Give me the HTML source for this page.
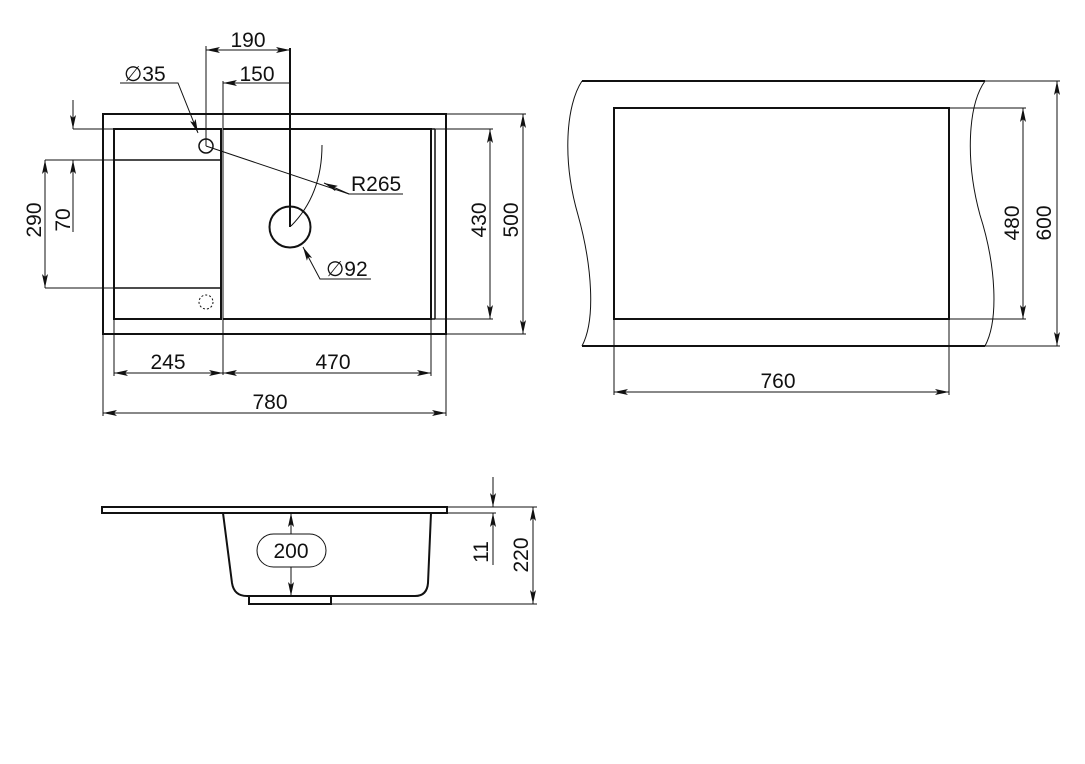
<!DOCTYPE html>
<html><head><meta charset="utf-8"><style>
html,body{margin:0;padding:0;background:#fff;}
svg{display:block;}
text{font-family:"Liberation Sans",sans-serif;font-size:21px;fill:#111;}
</style></head><body>
<svg width="1085" height="764" viewBox="0 0 1085 764" xmlns="http://www.w3.org/2000/svg">
<defs>
<marker id="a" viewBox="0 0 14 6" refX="14" refY="3" markerWidth="14" markerHeight="6" markerUnits="userSpaceOnUse" orient="auto-start-reverse">
<path d="M0,0 L14,3 L0,6 L3,3 Z" fill="#111"/></marker>
</defs>
<g fill="none" stroke="#111">
<rect x="103" y="114" width="343" height="220" stroke-width="2"/>
<path d="M114,129 H221 V319 H114 Z" stroke-width="2"/>
<path d="M223,129 H431 V319 H223" stroke-width="2"/>
<path d="M435,129 V319 M431,129 H435 M431,319 H435" stroke-width="1.5"/>
<path d="M114,160 H221 M114,288 H221" stroke-width="1.5"/>
<circle cx="206" cy="146" r="7" stroke-width="1.5"/>
<circle cx="206" cy="302" r="7" stroke-width="1" stroke-dasharray="2,2"/>
<circle cx="290" cy="227" r="20.5" stroke-width="2"/>
<path d="M290,48 V227" stroke-width="2"/>
<path d="M322,145 Q322,195 291,226" stroke-width="1"/>
<g stroke-width="1">
<path d="M206,46 V146 M223,81 V375 M114,319 V376 M431,319 V376 M103,334 V416 M446,334 V416"/>
<path d="M206,50 H290" marker-start="url(#a)" marker-end="url(#a)"/>
<path d="M223,83 H290" marker-start="url(#a)"/>
<path d="M120,83 H178 L198,133" marker-end="url(#a)"/>
<path d="M206,146 L349,194 H403"/>
<path d="M324,183 L349,194" marker-start="url(#a)"/>
<path d="M371,279 H320 L303,247" marker-end="url(#a)"/>
<path d="M73,129 H114 M45,160 H114 M45,288 H114"/>
<path d="M73,100 V129" marker-end="url(#a)"/>
<path d="M73,232 V160" marker-end="url(#a)"/>
<path d="M45,160 V288" marker-start="url(#a)" marker-end="url(#a)"/>
<path d="M435,129 H493 M435,319 H493 M446,114 H526 M446,334 H526"/>
<path d="M490,129 V319" marker-start="url(#a)" marker-end="url(#a)"/>
<path d="M523,114 V334" marker-start="url(#a)" marker-end="url(#a)"/>
<path d="M114,373 H223" marker-start="url(#a)" marker-end="url(#a)"/>
<path d="M223,373 H431" marker-start="url(#a)" marker-end="url(#a)"/>
<path d="M103,413 H446" marker-start="url(#a)" marker-end="url(#a)"/>
</g>
<path d="M582,81 H985 M582,346 H985" stroke-width="2"/>
<path d="M582,81 C566,105 562,160 578,215 C592,265 596,320 582,346" stroke-width="1"/>
<path d="M985,81 C968,105 965,160 980,215 C996,265 999,320 985,346" stroke-width="1"/>
<rect x="614" y="108" width="335" height="211" stroke-width="2"/>
<g stroke-width="1">
<path d="M985,81 H1060 M949,108 H1026 M949,319 H1026 M985,346 H1060 M614,319 V395 M949,319 V395"/>
<path d="M1023,108 V319" marker-start="url(#a)" marker-end="url(#a)"/>
<path d="M1057,81 V346" marker-start="url(#a)" marker-end="url(#a)"/>
<path d="M614,392 H949" marker-start="url(#a)" marker-end="url(#a)"/>
</g>
<rect x="102" y="507" width="345" height="6" stroke-width="2"/>
<path d="M223,513 L232,583 Q234,596 247,596 H415 Q427,596 428,583 L431,513" stroke-width="2"/>
<rect x="249" y="596" width="82" height="8" stroke-width="2"/>
<rect x="257" y="534" width="69" height="33" rx="16.5" stroke-width="1"/>
<g stroke-width="1">
<path d="M291,513 V534" marker-start="url(#a)"/>
<path d="M291,567 V596" marker-end="url(#a)"/>
<path d="M447,507 H537 M447,513 H496 M331,604 H537"/>
<path d="M493,477 V507" marker-end="url(#a)"/>
<path d="M493,565 V513" marker-end="url(#a)"/>
<path d="M533,507 V604" marker-start="url(#a)" marker-end="url(#a)"/>
</g>
</g>
<g>
<text x="248" y="47" text-anchor="middle">190</text>
<text x="257" y="81" text-anchor="middle">150</text>
<text x="124" y="81">∅35</text>
<text x="351" y="191">R265</text>
<text x="326" y="276">∅92</text>
<text x="168" y="369" text-anchor="middle">245</text>
<text x="333" y="369" text-anchor="middle">470</text>
<text x="270" y="409" text-anchor="middle">780</text>
<text transform="translate(41,220) rotate(-90)" text-anchor="middle">290</text>
<text transform="translate(70,220) rotate(-90)" text-anchor="middle">70</text>
<text transform="translate(486,220) rotate(-90)" text-anchor="middle">430</text>
<text transform="translate(518,220) rotate(-90)" text-anchor="middle">500</text>
<text transform="translate(1019,223) rotate(-90)" text-anchor="middle">480</text>
<text transform="translate(1051,223) rotate(-90)" text-anchor="middle">600</text>
<text x="778" y="388" text-anchor="middle">760</text>
<text x="291" y="558" text-anchor="middle">200</text>
<text transform="translate(488,552) rotate(-90)" text-anchor="middle">11</text>
<text transform="translate(528,555) rotate(-90)" text-anchor="middle">220</text>
</g>
</svg>
</body></html>
